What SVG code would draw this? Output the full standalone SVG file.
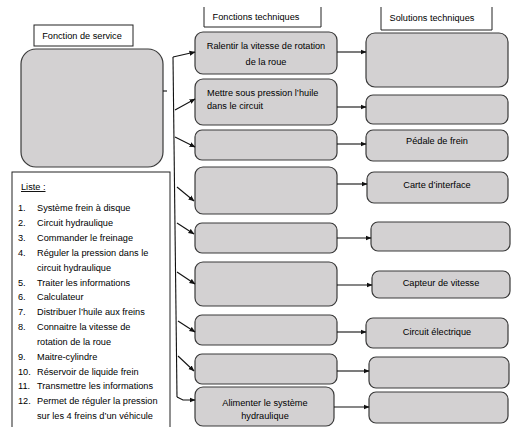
<svg xmlns="http://www.w3.org/2000/svg" width="514" height="427" viewBox="0 0 514 427">
<defs>
<marker id="ah" markerWidth="6" markerHeight="6" refX="5.5" refY="3" orient="auto" markerUnits="userSpaceOnUse">
<path d="M0,0.5 L6,3 L0,5.5 Z" fill="#111"/>
</marker>
<style>
.box{fill:#d3d1d2;stroke:#3a3a3a;stroke-width:1.2}
.hdr{fill:#fff;stroke:#222;stroke-width:1}
.t{font-family:"Liberation Sans",Arial,sans-serif;font-size:9.2px;fill:#000}
.c{text-anchor:middle}
.ln{fill:none;stroke:#111;stroke-width:1.1}
.ar{fill:none;stroke:#111;stroke-width:1.1;marker-end:url(#ah)}
</style>
</defs>
<rect width="514" height="427" fill="#fff"/>

<g id="fonction-service-header">
<rect class="hdr" x="34" y="25" width="99" height="21"/>
<text class="t" x="82" y="39" text-anchor="middle">Fonction de service</text>
</g>
<g id="fonction-service">
<rect class="box" x="21" y="49" width="142" height="118" rx="15"/>
</g>

<g id="liste">
<rect x="12" y="172" width="158" height="256" fill="#fff" stroke="#222" stroke-width="1"/>
<text class="t" x="21" y="190" text-decoration="underline">Liste :</text>
<g class="t">
<text x="18" y="211">1.</text><text x="37" y="211">Système frein à disque</text>
<text x="18" y="226">2.</text><text x="37" y="226">Circuit hydraulique</text>
<text x="18" y="241">3.</text><text x="37" y="241">Commander le freinage</text>
<text x="18" y="256">4.</text><text x="37" y="256">Réguler la pression dans le</text>
<text x="37" y="271">circuit hydraulique</text>
<text x="18" y="286">5.</text><text x="37" y="286">Traiter les informations</text>
<text x="18" y="300">6.</text><text x="37" y="300">Calculateur</text>
<text x="18" y="315">7.</text><text x="37" y="315">Distribuer l’huile aux freins</text>
<text x="18" y="330">8.</text><text x="37" y="330">Connaitre la vitesse de</text>
<text x="37" y="345">rotation de la roue</text>
<text x="18" y="360">9.</text><text x="37" y="360">Maitre-cylindre</text>
<text x="18" y="375">10.</text><text x="37" y="375">Réservoir de liquide frein</text>
<text x="18" y="389">11.</text><text x="37" y="389">Transmettre les informations</text>
<text x="18" y="404">12.</text><text x="37" y="404">Permet de réguler la pression</text>
<text x="37" y="419">sur les 4 freins d’un véhicule</text>
</g>
</g>

<g id="ft-header">
<path class="hdr" d="M204,7 V27 H321 V7"/>
<text class="t" x="256" y="20" text-anchor="middle">Fonctions techniques</text>
</g>
<g id="st-header">
<path class="hdr" d="M381,7 V30 H492 V7"/>
<text class="t" x="432" y="21" text-anchor="middle">Solutions techniques</text>
</g>

<g id="ft1"><rect class="box" x="195" y="32" width="142" height="42" rx="8"/>
<text class="t c" x="266" y="49">Ralentir la vitesse de rotation</text>
<text class="t c" x="266" y="65">de la roue</text></g>
<g id="ft2"><rect class="box" x="195" y="79" width="142" height="46" rx="8"/>
<text class="t" x="207" y="96">Mettre sous pression l’huile</text>
<text class="t" x="207" y="109">dans le circuit</text></g>
<g id="ft3"><rect class="box" x="195" y="130" width="142" height="30" rx="7"/></g>
<g id="ft4"><rect class="box" x="195" y="167" width="142" height="47" rx="8"/></g>
<g id="ft5"><rect class="box" x="195" y="223" width="142" height="30" rx="7"/></g>
<g id="ft6"><rect class="box" x="195" y="262" width="142" height="44" rx="8"/></g>
<g id="ft7"><rect class="box" x="195" y="315" width="142" height="30" rx="7"/></g>
<g id="ft8"><rect class="box" x="195" y="354" width="142" height="30" rx="7"/></g>
<g id="ft9"><rect class="box" x="195" y="387" width="139" height="39" rx="8"/>
<text class="t c" x="265" y="406">Alimenter le système</text>
<text class="t c" x="265" y="419">hydraulique</text></g>

<g id="st1"><rect class="box" x="366" y="33" width="142" height="54" rx="9"/></g>
<g id="st2"><rect class="box" x="366" y="95" width="142" height="29" rx="7"/></g>
<g id="st3"><rect class="box" x="366" y="130" width="142" height="31" rx="7"/>
<text class="t c" x="437" y="144">Pédale de frein</text></g>
<g id="st4"><rect class="box" x="367" y="172" width="141" height="31" rx="7"/>
<text class="t c" x="437" y="188">Carte d’interface</text></g>
<g id="st5"><rect class="box" x="371" y="222" width="139" height="29" rx="7"/></g>
<g id="st6"><rect class="box" x="372" y="271" width="138" height="27" rx="7"/>
<text class="t c" x="441" y="286">Capteur de vitesse</text></g>
<g id="st7"><rect class="box" x="366" y="318" width="142" height="30" rx="7"/>
<text class="t c" x="437" y="335">Circuit électrique</text></g>
<g id="st8"><rect class="box" x="369" y="357" width="140" height="31" rx="7"/></g>
<g id="st9"><rect class="box" x="369" y="392" width="139" height="31" rx="7"/></g>

<g id="connectors">
<line class="ln" x1="163" y1="91" x2="167" y2="91"/>
<path class="ln" d="M173,57 L177,397"/>
<line class="ar" x1="173" y1="57" x2="195" y2="52"/>
<line class="ar" x1="175" y1="110" x2="195" y2="99"/>
<line class="ar" x1="175" y1="137" x2="195" y2="147"/>
<line class="ar" x1="177" y1="187" x2="194" y2="201"/>
<line class="ar" x1="177" y1="223" x2="194" y2="234"/>
<line class="ar" x1="177" y1="272" x2="195" y2="284"/>
<line class="ar" x1="178" y1="321" x2="195" y2="332"/>
<line class="ar" x1="178" y1="356" x2="194" y2="371"/>
<path class="ar" d="M177,397 L183,400 H195"/>

<line class="ar" x1="337" y1="52" x2="366" y2="52"/>
<line class="ar" x1="337" y1="107" x2="366" y2="107"/>
<line class="ar" x1="337" y1="144" x2="366" y2="144"/>
<line class="ar" x1="337" y1="184" x2="367" y2="184"/>
<line class="ar" x1="337" y1="238" x2="371" y2="238"/>
<line class="ar" x1="337" y1="285" x2="372" y2="285"/>
<line class="ar" x1="337" y1="332" x2="366" y2="332"/>
<line class="ar" x1="337" y1="371" x2="369" y2="371"/>
<line class="ar" x1="334" y1="407" x2="369" y2="407"/>
</g>
</svg>
